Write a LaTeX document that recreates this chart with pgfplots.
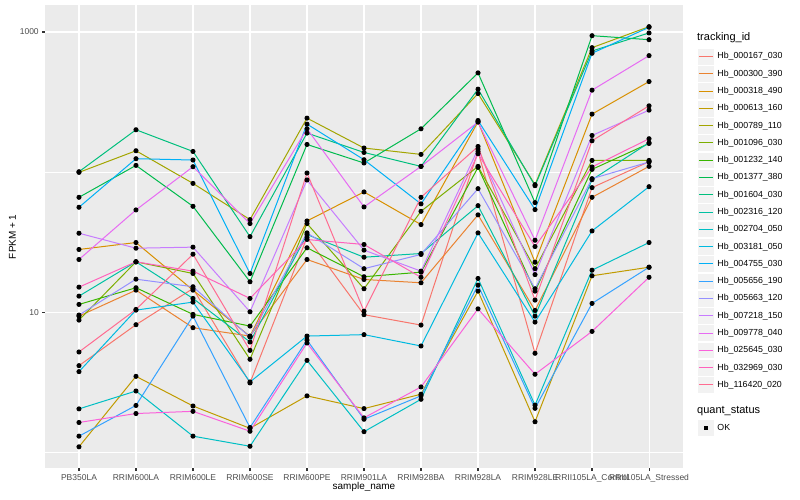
\documentclass[border=0pt]{standalone}
\usepackage{fontspec}
\setmainfont{Liberation Sans}
\usepackage{pgfplots}
\usepackage{pgfplotstable}
\pgfplotsset{compat=1.18}

% ggplot hue palette, 20 levels
\definecolor{c1}{HTML}{F8766D}
\definecolor{c2}{HTML}{EA8331}
\definecolor{c3}{HTML}{D89000}
\definecolor{c4}{HTML}{C09B00}
\definecolor{c5}{HTML}{A3A500}
\definecolor{c6}{HTML}{7CAE00}
\definecolor{c7}{HTML}{39B600}
\definecolor{c8}{HTML}{00BB4E}
\definecolor{c9}{HTML}{00BF7D}
\definecolor{c10}{HTML}{00C1A3}
\definecolor{c11}{HTML}{00BFC4}
\definecolor{c12}{HTML}{00BAE0}
\definecolor{c13}{HTML}{00B0F6}
\definecolor{c14}{HTML}{35A2FF}
\definecolor{c15}{HTML}{9590FF}
\definecolor{c16}{HTML}{C77CFF}
\definecolor{c17}{HTML}{E76BF3}
\definecolor{c18}{HTML}{FA62DB}
\definecolor{c19}{HTML}{FF62BC}
\definecolor{c20}{HTML}{FF6C91}
\definecolor{panel}{HTML}{EBEBEB}
\definecolor{keygray}{HTML}{F2F2F2}
\definecolor{ticktext}{HTML}{4D4D4D}
\definecolor{tickline}{HTML}{333333}

% FPKM + 1, one column per tracking_id, one row per sample
\pgfplotstableread{
x  s1    s2    s3    s4    s5    s6    s7    s8    s9    s10   s11   s12   s13   s14   s15   s16   s17   s18   s19   s20
0  4.17  9.41  28.1  1.10  99.7  8.81  11.40 66.2  100.8 13.06 2.05  3.78  56.2  1.31  9.57  36.7  23.84 1.64  15.14 5.22
1  8.17  14.41 31.5  3.50  142.2 22.95 14.99 111.8 200.7 22.95 2.75  10.38 124.8 2.17  17.26 28.7  53.8  1.90  22.95 10.5
2  14.8  7.78  14.41 2.15  83.2  18.95 9.68  57.1  140.6 12.58 1.31  11.84 122.1 9.41  15.24 29.2  109.4 1.97  19.7  26.0
3  3.14  6.78  6.75  1.49  45.9  4.63  7.99  16.54 34.7  6.15  1.11  3.19  18.95 1.51  6.67  10.1  43.0  1.42  12.58 5.36
4  34.3  23.84 44.9  2.54  243.0 43.0  28.9  157.7 190.1 35.9  4.55  6.78  220.3 6.35  36.9  88.0  203.9 6.05  33.1  98.7
5  9.63  17.17 72.3  2.06  148.7 14.75 17.96 116.3 138.3 24.75 1.41  6.94  122.7 1.73  20.5  27.8  56.5  1.77  30.5  10.2
6  8.12  16.27 42.3  2.61  133.9 52.6  19.36 203.9 110.0 26.3  2.40  5.76  59.4  2.54  25.9  19.7  110.0 2.94  17.8  66.2
7  140.6 49.6  228.8 14.18 363.8 110.0 108.2 510.8 391.0 57.7  17.46 36.9  233.7 15.64 76.3  146.3 227.7 10.6  135.4 152.6
8  5.11  10.33 22.8  1.66  81.5  20.5  14.18 60.7  80.1  9.41  2.18  8.53  54.1  2.07  14.75 18.6  32.7  3.62  29.5  12.24
9  77.6  66.2  259.6 18.25 773   121.3 104.7 941   732   88.4  20.0  38.1  705   11.59 89.9  182.7 384.6 7.32  108.9 167.6
10 118.8 110.0 443   21.0  1091  121.3 160.3 881   984   162.2 31.5  78.8  1080  21.0  118.2 277   678   17.8  173.2 297.4
}\fpkm

\pgfplotsset{
  keyline/.style={#1, legend image code/.code={
      \filldraw[fill=keygray, draw=white, line width=0.5bp] (0.25bp,-8.39bp) rectangle (17.03bp,8.39bp);
      \draw[#1, line width=1bp] (1.7bp,0bp) -- (15.6bp,0bp);}},
  keytitle/.style 2 args={legend image code/.code={\path[draw=none, fill=none] (0bp,-#1) rectangle (0bp,#2);}},
}

\begin{document}
\begin{tikzpicture}[x=1bp, y=1bp]
\useasboundingbox (0,0) rectangle (800,500);
\begin{axis}[
  at={(45bp,31.7bp)}, anchor=south west,
  scale only axis, width=638bp, height=463bp,
  ymode=log, ymin=0.773, ymax=1550,
  xmin=-0.596, xmax=10.596,
  xtick={0,...,10},
  xticklabels={PB350LA, RRIM600LA, RRIM600LE, RRIM600SE, RRIM600PE, RRIM901LA,
    RRIM928BA, RRIM928LA, RRIM928LE, RRII105LA\_Control, RRII105LA\_Stressed},
  ytick={10,1000}, yticklabels={10,1000},
  minor ytick={1,100},
  /pgf/number format/assume math mode=true,
  axis background/.style={fill=panel},
  axis line style={draw=none},
  tick align=outside, xtick pos=bottom, ytick pos=left,
  major tick length=2.75bp, minor tick length=0pt,
  tick style={tickline, line width=1.07bp},
  xmajorgrids, ymajorgrids, yminorgrids,
  major grid style={white, line width=1.07bp},
  minor grid style={white, line width=0.53bp},
  ticklabel style={font=\fontsize{8.5bp}{10bp}\selectfont, text=ticktext},
  xlabel={sample\_name}, ylabel={FPKM + 1},
  label style={font=\fontsize{11bp}{13bp}\selectfont},
  every axis x label/.style={at={(axis description cs:0.5,0)}, anchor=center, yshift=-18.7bp},
  every axis y label/.style={at={(axis description cs:0,0.5)}, anchor=center, xshift=-32.5bp, rotate=90},
  every axis plot/.append style={line width=1bp},
  legend style={at={(axis description cs:1.0219,0.9445)}, anchor=north west,
    draw=none, fill=none, inner sep=0pt, row sep=0pt, column sep=3bp,
    font=\fontsize{8.8bp}{10bp}\selectfont, cells={anchor=west}, nodes={inner sep=0pt}},
  legend cell align=left,
]
\addlegendimage{keytitle={10.7bp}{6bp}}
\addlegendentry{\hspace*{-20.3bp}\fontsize{11bp}{13bp}\selectfont tracking\_id}

\addplot[keyline=c1] table[y=s1]{\fpkm};   \addlegendentry{Hb\_000167\_030}
\addplot[keyline=c2] table[y=s2]{\fpkm};   \addlegendentry{Hb\_000300\_390}
\addplot[keyline=c3] table[y=s3]{\fpkm};   \addlegendentry{Hb\_000318\_490}
\addplot[keyline=c4] table[y=s4]{\fpkm};   \addlegendentry{Hb\_000613\_160}
\addplot[keyline=c5] table[y=s5]{\fpkm};   \addlegendentry{Hb\_000789\_110}
\addplot[keyline=c6] table[y=s6]{\fpkm};   \addlegendentry{Hb\_001096\_030}
\addplot[keyline=c7] table[y=s7]{\fpkm};   \addlegendentry{Hb\_001232\_140}
\addplot[keyline=c8] table[y=s8]{\fpkm};   \addlegendentry{Hb\_001377\_380}
\addplot[keyline=c9] table[y=s9]{\fpkm};   \addlegendentry{Hb\_001604\_030}
\addplot[keyline=c10] table[y=s10]{\fpkm}; \addlegendentry{Hb\_002316\_120}
\addplot[keyline=c11] table[y=s11]{\fpkm}; \addlegendentry{Hb\_002704\_050}
\addplot[keyline=c12] table[y=s12]{\fpkm}; \addlegendentry{Hb\_003181\_050}
\addplot[keyline=c13] table[y=s13]{\fpkm}; \addlegendentry{Hb\_004755\_030}
\addplot[keyline=c14] table[y=s14]{\fpkm}; \addlegendentry{Hb\_005656\_190}
\addplot[keyline=c15] table[y=s15]{\fpkm}; \addlegendentry{Hb\_005663\_120}
\addplot[keyline=c16] table[y=s16]{\fpkm}; \addlegendentry{Hb\_007218\_150}
\addplot[keyline=c17] table[y=s17]{\fpkm}; \addlegendentry{Hb\_009778\_040}
\addplot[keyline=c18] table[y=s18]{\fpkm}; \addlegendentry{Hb\_025645\_030}
\addplot[keyline=c19] table[y=s19]{\fpkm}; \addlegendentry{Hb\_032969\_030}
\addplot[keyline=c20] table[y=s20]{\fpkm}; \addlegendentry{Hb\_116420\_020}

% points drawn on top of all lines
\pgfplotsinvokeforeach{1,...,20}{
  \addplot[only marks, mark=*, mark size=2bp, black, forget plot] table[y=s#1]{\fpkm};
}

\addlegendimage{keytitle={8.66bp}{17.06bp}}
\addlegendentry{\hspace*{-20.3bp}\fontsize{11bp}{13bp}\selectfont quant\_status}
\addlegendimage{legend image code/.code={
    \filldraw[fill=keygray, draw=white, line width=0.5bp] (0.25bp,-8.39bp) rectangle (17.03bp,8.39bp);
    \draw[black, only marks, mark=square*, mark size=1.2bp] plot coordinates {(8.64bp,0bp)};}}
\addlegendentry{OK}
\end{axis}
\end{tikzpicture}
\end{document}
